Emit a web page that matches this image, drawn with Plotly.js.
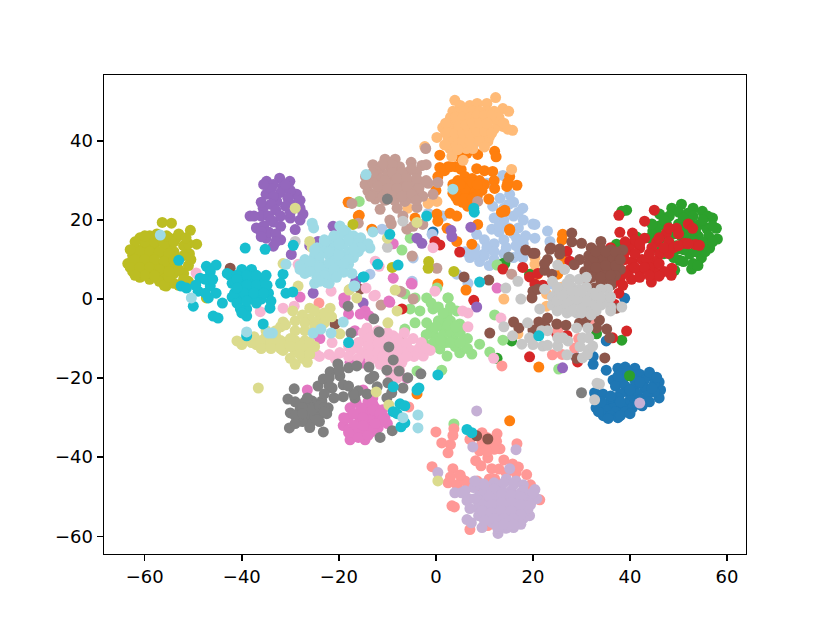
<!DOCTYPE html>
<html><head><meta charset="utf-8">
<script src="https://cdn.plot.ly/plotly-3.0.1.min.js"></script>
<style>html,body{margin:0;padding:0;background:#fff}</style></head>
<body><div id="chart" style="width:830px;height:623px"></div>
<script>
const palette=['#1f77b4','#aec7e8','#ff7f0e','#ffbb78','#2ca02c','#98df8a','#d62728','#ff9896','#9467bd','#c5b0d5','#8c564b','#c49c94','#e377c2','#f7b6d2','#7f7f7f','#c7c7c7','#bcbd22','#dbdb8d','#17becf','#9edae5'];
const c0=[[37.5,-17.5],[39,-17.2],[41,-17.5],[38,-18.8],[40,-19],[42,-19],[44.5,-19.5],[46,-21],[46.3,-23],[46,-25],[36.5,-20.5],[38.5,-20.5],[41,-20.5],[43,-20.5],[45,-21.5],[37,-22],[39,-22],[41,-22],[43,-22.5],[45,-23.5],[39.5,-23.5],[41.5,-24],[43.5,-24.5],[40,-25.5],[42,-25.5],[44,-26],[42.5,-27],[39,-26.5],[37,-26],[35.5,-26.5],[34,-27],[36.5,-27.5],[38.5,-27.5],[40.5,-27.5],[35,-28],[37,-28.5],[39,-28.5],[34.5,-29.5],[36,-29.5],[37.5,-30],[35.5,-30.2],[33,-27.5],[32.7,-23.7],[34.4,-24],[35.1,-18],[32.4,-16.5],[32.4,-14.5],[35.1,-10.6],[38.9,0.2],[-0.6,17],[9.5,-34.5],[38,-24],[36,-25],[44,-18.5],[45.5,-19.8],[42,-21],[40,-23],[44.5,-22.5],[37.5,-25],[33.5,-28.5],[34,-26],[38,-29.5],[40,-29],[41.5,-26.5],[37.5,-19.5],[39.5,-18.3],[36,-24.5],[38,-26]];
const c1=[[15.2,26.5],[13.2,25.5],[17.9,23],[20,19],[11.7,23.5],[11.5,17.7],[16.6,15.4],[8.4,16.4],[9.7,11.3],[14.6,10.4],[17.3,12.1],[14,23],[16,24.5],[16,21],[18,20],[14,20],[12,20.5],[17,18],[15,18],[13,17],[18.5,16],[14,15],[10,15],[12,14],[14.5,13],[16.5,13.5],[10.5,13],[8,13],[6,12],[7,10.5],[9,9.5],[12,10],[11,8.5],[18,14],[16,10.5],[-11.1,17.7],[-0.8,16.4],[-4.7,10.4],[-13.6,6.3],[4.3,6.3],[6.6,4],[-4.9,4.5],[8.4,39.9],[10.5,29.3],[13.8,31.3],[-1.6,21.7],[1.4,21],[23,17.2],[23.5,14.6],[20.4,15.4],[20.4,18.9],[17.9,10.4],[24,3.8],[28.6,-14.4],[27,12],[16,16.5],[14,11.5],[12,12],[10,11],[17,22],[15,24],[8,11.5],[13,18.5]];
const c2=[[0.8,36.4],[12.1,37.4],[12.4,36],[0.8,33.3],[2.5,33.5],[0.4,31],[1.8,32.5],[4,33.5],[5.2,32.8],[8.4,33],[10,32.5],[11.7,32.3],[12,30],[12.1,28],[15.2,31],[14.6,28.5],[16.7,28.8],[14.8,29.5],[6.4,36.9],[8.6,36.6],[4.9,36],[0,27.5],[3.5,26.8],[10.9,25.3],[14.2,22.5],[13.5,22],[15.2,17.4],[2.9,21.7],[4.3,21],[0.2,21.5],[0.4,19.7],[2.3,17.9],[-4.3,20.5],[8.6,18.9],[4.3,14.6],[7.4,13.9],[-16,21],[-18.1,24.5],[-13.2,17.7],[0.4,3.8],[6.2,2.3],[15.2,-30.8],[21.2,-17.2],[-37.7,5.8],[-17.9,24.5],[-15.8,21.2],[15.2,17.7],[14.2,22.2],[26.1,16.4],[26,15],[25.1,6.3],[21,6.3],[-3.9,-24],[4.5,30],[6,31],[7.5,30.5],[9,30],[10,29],[4,28],[5.5,28.5],[7,28.5],[8.5,28],[9.5,27.5],[4,26],[5.5,26.5],[7,26.5],[8.5,26],[5.5,24.5],[7,24.5],[8,25],[6,29.5],[3.5,29],[6.5,23.5],[3,33.5],[26,10],[5,27],[6.5,27.5],[8,27],[4.5,25],[6,25.5],[7.5,25.5],[6,28],[7.5,29.5],[5,29],[8.5,29]];
const c3=[[3.9,50.3],[12.3,51],[13.8,48.2],[15,47.5],[13.8,43.7],[15.8,42.7],[14.8,43],[1.4,43.4],[0.2,40.9],[2.9,38.1],[3.3,36.1],[7.6,38.1],[6.3,38.1],[10.7,39.9],[5.6,35.1],[15.6,32.8],[-2.3,38.6],[0.2,24.7],[-1.6,24.2],[-5.8,23],[20.4,8.8],[20.4,10.5],[20.4,7],[25.9,3],[22.8,1.3],[22.8,-1.8],[14,0],[16.9,-8.8],[3.5,47.5],[5,49],[7,49],[8.5,49.5],[10.5,49.5],[3,46],[4.5,47],[6,47.5],[7.5,47.5],[9,47.5],[10.5,47.5],[12,47.5],[3.5,44.5],[5,45],[6.5,45],[8,45.5],[9.5,45.5],[11,45.5],[12.5,45],[3,43],[4.5,43],[6,43],[7.5,43.5],[9,43.5],[10.5,43.5],[12,43],[3.5,41],[5,41],[6.5,41.5],[8,41.5],[9.5,41.5],[11,41],[4,39.5],[5.5,39.5],[7,40],[9,40],[2.5,40.5],[10,38.5],[2,44.5],[13,46],[14,44.5],[2,42],[1.8,39],[4.5,37.8],[4,46],[5.5,46],[7,46],[8.5,46.5],[10,46.5],[11.5,46.5],[4,42],[5.5,42],[7,42],[8.5,42.5],[10,42.5],[11.5,42],[4.8,44],[6.2,44],[7.5,44.5],[9,44.5],[10.5,44.5]];
const c4=[[39.3,22.5],[38.3,22.2],[50.6,24],[48.6,23],[51.9,21.7],[54.9,22.2],[57,20.5],[57.8,17.9],[58,15.2],[56.4,12.9],[54.7,10.4],[52.7,7.6],[50.2,9.8],[46.1,21.5],[48.1,21],[44.7,17.2],[44,15.5],[54.3,18.9],[55.8,17.9],[52.5,19],[54,16],[56.2,16],[51.6,14.6],[53.5,13.5],[52.3,11.4],[49.6,12.6],[47,11.5],[49,16.5],[44.7,13],[49.2,7.3],[44.3,6],[41.4,15.7],[37.2,13.9],[19.3,6.3],[14.2,9],[38.3,-10.4],[39.9,-19.4],[33.1,-8.8],[15.6,-10.6],[13.8,9],[12.6,-15],[46,18.5],[50,19],[47.5,19],[52,17],[48,14],[46,13.5],[50.5,16],[53,15],[50,22],[53,23],[56,21],[53,21],[51,20.5],[55,20],[57,18.5],[53.5,17.5],[51,18],[48.5,17.5],[46,16],[47.5,15.5],[55,14.5],[57,14.5],[55.5,12],[53.5,12],[51,12.5],[49,10.5],[51,9.5],[53,9],[47,20],[44.5,19],[49.5,13.5],[54,8.5]];
const c5=[[2.5,0.3],[-1.9,0.3],[-4.3,-6],[-6.4,-7.6],[-0.6,-2.5],[-3.3,-3],[-5.3,-2.5],[4.3,-3],[-1.9,-6],[2.3,-3.8],[4.9,-6.3],[-0.6,-8.8],[1.5,-7],[3.5,-9.8],[5.6,-11],[9,-11.4],[7.4,-13.9],[4.9,-13.6],[2.3,-14.4],[0.8,-12.6],[0.2,-10],[12.1,-4],[13.8,-10.4],[11.1,-13.4],[-3.9,-18.2],[1.2,-18],[25.3,-17.7],[3.7,-31.6],[-15.8,24.7],[-5.3,15.4],[-7,12.4],[12.6,8.6],[2.5,0.3],[-6.4,1.3],[-4.3,0.3],[0.2,2.8],[1.5,-5],[3,-5.5],[0.5,-5.5],[-1,-8],[1.5,-9],[3,-8],[5,-8.5],[2,-11],[4,-12],[6.5,-10],[-0.5,-11],[6.5,-12.5],[-2.5,-11],[-1,-1],[0.5,-2],[3,-2],[1.5,-3.5],[0,-7],[2.5,-6.5],[4,-7],[1,-10.5],[3,-11],[5,-11],[-2,-9]];
const c6=[[45,22.5],[37.7,21.2],[43,19.7],[37.9,16.9],[40.5,16.7],[43,15.4],[52,19],[52.9,17.9],[49.6,17.9],[50,16.5],[47.5,16.7],[45.5,14.5],[48,14.5],[51.2,14.1],[53.5,13.8],[54.3,13.6],[44.5,13],[42,12.9],[40,13.5],[38.9,10],[40.5,9.5],[42.5,10],[46.1,11.4],[48,11.5],[45,9.5],[43.5,10],[48.6,7.8],[48.5,6],[47,7],[45,7],[42,6.8],[44.4,4.3],[40.3,5],[37.9,5],[42,5.5],[37.7,1.5],[13.8,7.6],[17.9,8],[19.3,5.6],[20.4,3.8],[22,3.5],[27,12.1],[27.6,9.6],[36.8,-1.3],[39.3,-8.1],[36.4,-9.8],[24.9,-8.8],[27,-9.2],[19.3,-14.6],[29.2,-15.9],[4.9,11.9],[-0.2,14.6],[0.8,13.7],[7.8,-0.3],[-7,-2.5],[39,12],[41,11.5],[44,8],[46,9],[40,7.5],[39,6.5],[21,6.5],[36,13],[41,15],[42,14],[39,14.5],[41,8],[43,8],[38,7.5],[36.5,4],[38.5,3.5],[46,5.8],[44,11.5],[47,13],[49,13],[50,13.5],[52,14],[46,15.5],[48,18],[44,6]];
const c7=[[0,-33.6],[3.7,-32.8],[3.5,-34.5],[1.2,-36.4],[3,-36.8],[2.5,-38.9],[9.5,-33.8],[12.6,-34.1],[12.5,-36],[13.2,-37.9],[9,-38.4],[10.7,-40.2],[16.7,-36.6],[8.2,-40.9],[9.3,-42.2],[-0.8,-42.4],[3.5,-42.9],[14,-40.7],[15.8,-41.7],[11.5,-42.9],[13,-43],[18.7,-44.4],[19.5,-47],[21.4,-50.8],[2.5,-46.5],[5.3,-45.5],[4.3,-47],[7,-47.5],[8.5,-46],[5.5,-48.5],[10.5,-48],[12.1,-45.5],[11,-45.5],[3.3,-52.3],[3.8,-52.6],[7,-58.3],[10.7,-57.3],[15.8,-49.7],[-24.1,-1],[-5.6,-27.3],[13.6,-16.9],[24,-14.1],[26,-14],[28.6,-12.4],[29.4,-10],[25.1,-8],[10.5,-35],[11,-37],[9.5,-36.5],[7,-35.5],[8.5,-46.5],[32,-5],[3,-45],[6,-46],[9,-48],[5,-44.5],[13,-47],[14.5,-44],[16.5,-44],[17,-42.5],[12,-38],[10.5,-38.5]];
const c8=[[-34.9,29.8],[-32.2,30.6],[-30.1,29.8],[-35,26.5],[-28.7,26.5],[-32.8,24.7],[-35.6,23],[-38.3,21],[-27.4,21.5],[-30,20.5],[-37,18],[-32,18.4],[-29,17.6],[-35,15.4],[-32,15],[-33.5,13.4],[-29.8,11.3],[-21.2,18.4],[-24.3,14.6],[-26,13.5],[-25.3,1.5],[-16.5,4.5],[-33.5,29],[-31.5,28.5],[-34,28],[-32,27],[-30,27.5],[-33.5,26],[-30.5,25.5],[-29,24],[-34,24],[-31,23.5],[-33,22.5],[-36,21],[-34.5,21],[-37.5,21],[-33.5,19.5],[-35.5,18.5],[-34.5,17],[-36,17],[-33,16.5],[-28,23],[-22.5,14.5],[26.1,-17.4],[7.2,18.2],[3.1,17.4],[3.3,15.8],[-3.9,15.4],[-2.9,14.1],[8.4,-2],[-15,-1],[-31,29],[-35.5,29],[-28,25],[-34,20],[-32,21],[-30,22],[-28,20],[-36,15.8],[-33,14.5],[-36,24.5]];
const c9=[[8.4,-28.3],[16.5,-38.1],[7.6,-37.4],[0.4,-43.9],[15.2,-42.9],[9.7,-46.7],[7.8,-47.7],[3.9,-49],[5.3,-49],[6.4,-51],[6.8,-50.5],[9,-49.7],[8.6,-52.8],[8.8,-54.8],[6.4,-55.8],[7.3,-56.6],[9.5,-57.8],[12.8,-59.3],[20.4,-48.2],[20.8,-50.5],[19.3,-54.8],[16,-57.8],[42,-26.3],[12,-46.5],[14.5,-45.5],[16.5,-46],[18,-47],[11.5,-49],[13.5,-48],[15.5,-48.5],[17.5,-49],[19,-50],[10.5,-51],[12.5,-50.5],[14.5,-50.5],[16.5,-50.5],[18.5,-51.5],[11,-53],[13,-52.5],[15,-52.5],[17,-53],[19,-53],[10.5,-55],[12.5,-54.5],[14.5,-54.5],[16.5,-54.5],[18,-55.5],[11.5,-56.5],[13.5,-56.5],[15.5,-56.5],[17.5,-57],[13,-58],[14.5,-58],[9,-47],[7,-53],[10,-48.5],[12,-48],[14,-46.5],[16,-47],[18,-48.5],[20,-49],[11,-50],[13.5,-49.5],[15.5,-49.5],[17.5,-50],[19.5,-52],[9.5,-52],[11.5,-52],[13.5,-51.5],[15.5,-51.5],[17.5,-52],[9.5,-53.5],[11.5,-54],[13.5,-53.5],[15.5,-53.5],[17.5,-54.5],[10,-56],[12,-55.5],[14,-55.5],[16,-55.5],[12.5,-57.5],[14,-57],[16,-57],[10,-47],[8,-46],[6,-48.5],[8,-50.5]];
const c10=[[28,16.7],[28,14.5],[30,14.1],[34,14.6],[18.5,12.4],[20,11.6],[23.7,12.9],[25.5,12.7],[25.5,11.4],[23,10],[29.6,10],[28.5,8.7],[22.4,7.3],[23.9,6.3],[30.7,7],[31.3,5],[20,2],[19.8,0.3],[32.7,2.8],[38.5,12.4],[37.2,-2.3],[16,-5.8],[17.1,-7.3],[21.2,-5.8],[23,-4.8],[20,-7.8],[24.9,-6.3],[26.8,-6.6],[29.6,-6],[31,-5],[33.7,-5.3],[33.1,-7.3],[35.2,-7.6],[35.8,-9.8],[34.8,-14.9],[29,-15],[11.1,-8.6],[5.8,5.6],[10.9,4.8],[20.4,11.6],[23.5,12.6],[22.4,9],[8.4,-34.6],[10.7,-35.4],[-42.4,7.8],[-15.6,2.5],[-20.8,-6.3],[32,13],[34,12.8],[36,12.5],[31.5,11],[33.5,11],[35.5,11],[37.5,11],[31.5,9],[33.5,9.5],[35.5,9.5],[37.5,9],[32,7.5],[34,8],[36,7.5],[38,7.5],[33,6],[35,6],[37,6],[34,4.5],[36,4.5],[31,-4],[22.5,-7],[21,2.5],[32.5,10.5],[34.5,10.5],[36.5,10.5],[33,8],[35,8.5],[37,8.5],[32,5.5],[34,5.5],[36,6],[33,12],[35,12],[37,12],[38,10],[36,3.5]];
const c11=[[-10.5,35.4],[-8.4,35.4],[-13,34],[-5.1,34.6],[-2.9,33.8],[-8.4,30.6],[-14.6,29],[-14,27.3],[-12.5,25.3],[0.4,29.5],[-1.6,29.3],[-0.6,26.5],[-2.7,26],[-6.4,24.7],[-11.5,22.7],[-8,23],[-3.9,23.2],[-2.1,38.1],[-9.5,20],[-9.2,19],[-6.8,21],[-6,17.7],[-4.7,18.4],[-2.7,18.9],[-17.3,24.2],[8.6,24.7],[-4.9,10.9],[0.2,7.8],[-7.2,1.8],[15.6,6.3],[-11.3,-1.5],[-7.4,2],[-4.7,0],[-7,-10.9],[-60.9,15.4],[-16,19.2],[-11.5,33],[-9.5,33.5],[-7.5,33.5],[-12,31],[-10,31.5],[-6,32],[-4,32],[-13,29.5],[-11,29],[-9,29],[-7,29.5],[-5,29.5],[-3,29.5],[-12,27],[-10,27],[-8,27],[-6,27.5],[-4,27.5],[-10.5,25],[-8.5,25],[-5,25.5],[-2,34],[-14,31],[-9,34],[-11,34],[-12.5,32.5],[-9,32],[-7,32],[-5,33],[-10.5,30],[-8,30.5],[-6,30.5],[-4,30.5],[-12,28.5],[-10,28],[-8,28],[-6,28.5],[-3.5,28],[-11,26],[-9,26],[-7,26],[-5,26.5],[-13.5,26],[-14.5,31],[-13,32],[-2,30],[-4,25]];
const c12=[[-17.7,-27.5],[-14.2,-24],[-12.5,-27.5],[-10.5,-30],[-19.1,-32],[-17.7,-35.6],[-14.6,-35.6],[-16.7,-33.8],[-13.6,-32.8],[-11.9,-32.6],[-14.5,-31],[-16,-29.5],[-13.5,-30],[-14.5,-28],[-12,-29.5],[-16.5,-26],[-12,-31],[-18,-30],[-16,-31.5],[-14,-26],[-11,-28],[-14.6,-3],[-15.6,-3.8],[-13.8,-4.2],[-18.7,0.3],[-18,-3.8],[-28,0.5],[-23.9,-10],[-16.7,-8],[-26.5,-23],[-9.5,-0.8],[-4.9,3.8],[-18.9,-1],[-24.5,-9],[-8.8,14],[-8.8,5.3],[-5.1,4],[-9.7,-0.5],[12.6,2.8],[-19,0.3],[-15,-16.2],[-17.7,-16],[-6,-20],[-15,-23],[-13,-25],[-18,-33],[-13,-26.5],[-15.5,-27.5],[-17,-29],[-15,-30],[-13,-28],[-11.5,-29],[-10,-31.5],[-19,-30],[-17,-32],[-15,-33],[-13,-33.5],[-16,-35],[-18,-33.8],[-14,-34.5],[-11,-30.5],[-12.5,-31.5],[-15,-32]];
const c13=[[-14.2,-7.3],[-15,-10.6],[-13,-11],[-16.3,-12.4],[-17.5,-13],[-19.8,-13.6],[-20.8,-15],[-8.8,-9.3],[-4.7,-10],[-6.8,-13],[-1.2,-13],[-2.6,-14.4],[-10,-16.4],[-9.4,-19],[-12,-14.9],[-13.5,-9],[-11.5,-10],[-13,-13],[-15,-13.5],[-16,-15],[-13.5,-15.5],[-11,-12.5],[-9,-12],[-7.5,-11],[-5,-13],[-3.5,-12.5],[-4.5,-14.5],[-8,-14.5],[-9.5,-14.5],[-7,-16],[-11.5,-16.5],[-6.5,-8.5],[-49.4,6.6],[-31.5,-2.3],[-29.2,-1.8],[-36.2,-3.2],[-28.4,8.8],[-21.6,2],[-14.4,2.8],[-21.4,-11],[-24.7,-13.9],[-19.8,-13.6],[-24,-14.5],[-22,-14],[-12.5,1],[-0.2,2],[-12.8,0.8],[-0.6,13],[-11.7,8.3],[-12.5,9.6],[6.6,-3.5],[5.5,-3],[6.6,-7],[13.4,-4.8],[11.9,-15],[-8,-20],[-7.5,-18],[-12,-8],[-15,-8.5],[-10,-8.5],[-14,-10],[-12,-11.5],[-10,-11],[-8,-10],[-14,-12],[-16,-11],[-18,-12],[-18,-14.5],[-14,-14],[-12,-13.5],[-10,-13.5],[-8,-13],[-6,-14.5],[-6,-11],[-3,-11],[-2,-12.5],[-9,-16],[-8,-17],[-11,-14.5]];
const c14=[[-30.2,-32.6],[-23.2,-33.6],[-30.5,-25.3],[-29.2,-22.7],[-30,-28.8],[-28,-27.8],[-28.6,-30.3],[-25.5,-25.8],[-25.9,-31.3],[-23.9,-29],[-22.2,-27.5],[-25,-27.5],[-26.5,-29],[-25,-29.5],[-23.5,-25.8],[-24.3,-22],[-23.2,-20.2],[-21.8,-18.4],[-20.2,-16.4],[-18,-17.4],[-16.3,-16.9],[-19.8,-19.4],[-21.4,-22.5],[-19.1,-21.7],[-19.1,-24.7],[-21,-25],[-16.7,-25],[-16,-23.2],[-14.2,-24],[-13.8,-17.2],[-13.6,-20.2],[-12.8,-19.5],[-10.1,-18],[-9.9,-21.2],[-12.1,-22.2],[-9.1,-23.7],[-10.1,-25],[-6.8,-22.5],[-7.6,-18.2],[-5.8,-19.9],[-3.1,-18.9],[-8.8,-15.4],[-9.7,-12.1],[-11.7,-8.3],[-12.8,-5],[-17.5,-8.6],[-18.1,-1.8],[-11.5,-35],[-9,-33.3],[-10,25.3],[15,10.6],[30,-23.7],[-27,-26],[-26,-27.5],[-27.5,-31],[-24,-31],[-22,-22],[-17,-24],[-29,-26],[-27.5,-27.5],[-29,-29.5],[-26.5,-25],[-25.5,-28],[-24,-27],[-22.5,-29],[-24.5,-30.5],[-26,-32.5],[-29,-31.5],[-27.5,-29],[-23,-24],[-23,-27.5],[-22,-20],[-20,-18],[-18,-22],[-23,-28.5]];
const c15=[[25.1,8.6],[26.5,7.5],[27.6,5],[29.5,5],[22.4,2.5],[35.4,2.5],[38.3,-2],[14.4,2.8],[16.9,4.5],[17.5,0],[21.4,-2.5],[18.9,-6],[15.8,-9.3],[17.7,-11.4],[19.3,-9.8],[20,-11.5],[21.8,-8],[23,-8],[22,-11.9],[23,-11.7],[25.1,-11.9],[25.1,-9.8],[27.2,-10.6],[26.2,-9.8],[27,-14.1],[29,-7.3],[31.3,-7.3],[30.2,-9.8],[31.5,-9.8],[32.3,-11.9],[29.7,-12],[31.5,-12.8],[30.2,-14.9],[31.2,-14],[33.7,-21.5],[33.2,-21.3],[32.7,-25.5],[-6.8,19.7],[-10,13.1],[25,2],[26.5,2.5],[28,3],[29.5,2.5],[31,3],[32.5,1.5],[34,2.5],[24,0.5],[25.5,0],[27,0.5],[28.5,0.5],[30,0.5],[31.5,0.5],[33,0],[35,0],[24,-1.5],[26,-2],[28,-1.5],[30,-1.5],[32,-1.5],[34,-1.5],[36,-2],[25,-3],[27,-3.5],[29,-3.5],[31,-3],[33,-3],[-29,14.6],[24,4.5],[31,5.5],[14,-7],[30,-3.5],[25,-0.5],[27,-1],[29,0],[31,-0.5],[33,1],[26,1],[28,2],[30,2],[27,4],[25,3],[28,-3],[30,-2.5],[32,-4],[34,0.5],[36,0.5],[36,-3]];
const c16=[[-56.4,19.4],[-54.5,19.2],[-50.6,17.4],[-49.3,13.9],[-51,4.5],[-55.6,3.3],[-17.1,18.9],[-1.6,7.8],[-1.5,9.5],[3.7,7],[-47.3,0.3],[-61,15.5],[-59,16],[-57,15.5],[-55,15.5],[-53.5,15.5],[-62,13],[-60,13.5],[-58,13.5],[-55,13],[-52,13.5],[-50.8,11.5],[-62.5,11],[-60.5,11],[-58.5,11],[-56,11],[-54,12],[-52,11],[-63.5,9],[-61.5,9],[-59.5,9],[-57.5,9],[-55.5,8.5],[-53.5,8.5],[-51,8.5],[-62.5,7],[-60.5,7],[-58.5,7],[-56.5,6],[-54,6.5],[-52,6.5],[-61,5.5],[-59,5],[-57,4.5],[-54,4],[-53,3.5],[-56,3.5],[-9,8],[-60,14.5],[-58,14.5],[-56,14],[-54,14.5],[-61,12],[-59,12],[-57,12],[-55,11.5],[-53,10],[-62,10],[-60,10],[-58,10],[-56,9.5],[-54,10],[-63,8],[-61,8],[-59,8],[-57,7.5],[-60,6],[-58,6],[-55,5.5],[-52,5],[-53,7.5],[-50.5,10],[-51,14],[-62,14.5],[-63,12.5],[-60,16],[-57.5,16.5],[-55.5,16],[-53,16.5],[-51.5,15.5],[-55,7],[-62,6]];
const c17=[[-41,-10.6],[-31.5,-5.8],[-26,-2.3],[-21.8,-2.3],[-28.4,3.3],[-17.7,2.5],[-16.3,0.3],[-19.8,-8.8],[-29,23],[-26,14.6],[-25.5,13],[-31.5,9],[-36.6,-22.5],[-12.3,-23.5],[-9.7,-26.8],[-8,-3],[-9.9,-6],[-8.4,2.3],[-3.9,19.4],[-10,15.4],[-17.9,2.3],[0.4,-46],[-39,-10],[-37.5,-9.5],[-37,-11.5],[-35,-9.5],[-33,-9.5],[-35,-11.5],[-33,-11.8],[-31,-11],[-29,-10.5],[-27,-10.5],[-31.5,-13],[-29,-13],[-27,-13],[-30,-15],[-27.5,-15],[-25,-12],[-29,-8],[-27,-8],[-29,-5.5],[-26,-5],[-24,-5],[-23,-3.5],[-21.5,-4.5],[-25,-3],[-27.5,-4],[-24.5,-6.5],[-33,-8],[-32,-7],[-35,-8],[-40,-11.5],[-38,-11],[-36,-10.5],[-34,-11],[-32,-10.5],[-30,-10],[-36,-12.5],[-34,-12.5],[-32,-12.5],[-30,-12],[-28,-12],[-26,-11],[-28,-14],[-26,-14],[-29,-16.5],[-26.5,-16],[-31,-6.5],[-29.5,-3],[-27,-6],[-25,-7],[-23,-6]];
const c18=[[-39.3,12.9],[-35.2,12.6],[-29.4,13.6],[-53,9.8],[-47.3,8.3],[-45.3,8.6],[-46.5,7],[-48.6,5.3],[-49,2],[-52.5,3.3],[-51.4,2.8],[-46.5,3.3],[-45.3,1.5],[-46.9,0.3],[-44,-1],[-50,-1.8],[-45.9,-4.3],[-44.9,-4.8],[-42.4,6],[-40,7.5],[-38,7.5],[-42,4],[-40,4.5],[-38,5],[-36,5],[-34.8,3.5],[-40.5,2.5],[-38.5,2.5],[-36.5,2.5],[-34.5,1.5],[-42,0.5],[-40,0.5],[-38,0.5],[-36,0],[-34,-0.5],[-41,-1],[-37,-1],[-40.3,-2.5],[-39,-2.5],[-39,-4.3],[-34.2,-2.3],[-35.6,-6.3],[-39,-9.3],[-31.5,6.3],[-32,4],[-30.9,1.5],[-29.5,1.8],[-18,-11],[-14.8,5.6],[7.8,23],[7.9,22],[-1.9,21],[-9.5,16.4],[-12,8.8],[-7.8,8.6],[-15,5.6],[9,4.3],[21.2,-9.3],[-8.8,-22.2],[-7.4,-26.5],[-6.4,-27],[-8.8,-28.5],[-8,-29],[-7.2,-32.3],[-6.4,-31.3],[0.4,-19.2],[-3.9,-23],[-3.5,-22.5],[6.4,-33],[7.4,-33.8],[-43,6.5],[-41,6],[-39,6],[-37,6],[-35,6],[-41,5],[-39,3.5],[-37,3.5],[-35,3.5],[-41.5,1.5],[-39.5,1.5],[-37.5,1.5],[-35.5,1.5],[-39,-0.5],[-41,2.8],[-40,-3.5],[-47.5,5],[-47.5,1.5],[-49.5,3.5],[-46,5]];
const c19=[[-24.5,13],[-23,14],[-21.5,15],[-20,16],[-18.5,17],[-19.8,18.5],[-17,16],[-15.5,15.5],[-13,17],[-13.6,12.9],[-15,14],[-17,14],[-19,14],[-21,13],[-23,12],[-25,11],[-27,10],[-28,8.5],[-26,8.5],[-24,9.5],[-22,11],[-20,12],[-18,12],[-16,12],[-17,10.5],[-19,10.5],[-21,9.5],[-23,8],[-25,7],[-27,6.5],[-24.5,5.5],[-22,6],[-20,8],[-18,8.8],[-17.3,6.5],[-19,6.8],[-22.5,4.2],[-25,4],[-14.4,31.5],[3.5,27.8],[-16.9,3.3],[-56.8,16.2],[-50.4,0.3],[-39,-8.3],[-33.7,-8.6],[-34.5,-8.6],[-25.3,-8.6],[-23.7,-7.6],[-21.6,-8.6],[-19.1,-5.8],[-25.5,19.2],[-25.2,18],[-30.9,8.8],[-22,4],[-16.7,3.3],[-3.7,-29.3],[-3.7,-32.6],[-6.8,-30],[-19,17.5],[-21,16],[-23,15],[-18,15],[-16,14],[-14,14],[-15.5,13],[-20,14],[-22,12],[-24,11],[-26,9.5],[-20,11],[-18,10],[-22,9],[-24,8],[-26,7],[-21,7.5],[-19,9],[-23,6],[-17,12.5],[-25,12.5],[-28,7.5],[-20.5,5.5],[-24,4.5]];
const classes=[c0,c1,c2,c3,c4,c5,c6,c7,c8,c9,c10,c11,c12,c13,c14,c15,c16,c17,c18,c19];
const traces=classes.map((pts,i)=>({type:'scatter',mode:'markers',x:pts.map(p=>p[0]),y:pts.map(p=>p[1]),marker:{color:palette[i],size:11,line:{width:0}},hoverinfo:'skip',showlegend:false}));
const axisStyle={showgrid:false,zeroline:false,showline:true,mirror:true,linecolor:'#000',linewidth:1.4,ticks:'outside',ticklen:6,tickwidth:1.4,tickcolor:'#000',tickfont:{family:'DejaVu Sans',size:18,color:'#000'}};
Plotly.newPlot('chart',traces,{
 width:830,height:623,margin:{l:104,r:84,t:75,b:69},paper_bgcolor:'#fff',plot_bgcolor:'#fff',showlegend:false,
 xaxis:Object.assign({range:[-68.4,63.9],tickvals:[-60,-40,-20,0,20,40,60]},axisStyle),
 yaxis:Object.assign({range:[-64.5,56.7],tickvals:[-60,-40,-20,0,20,40]},axisStyle)
},{displayModeBar:false,staticPlot:true});
</script></body></html>
